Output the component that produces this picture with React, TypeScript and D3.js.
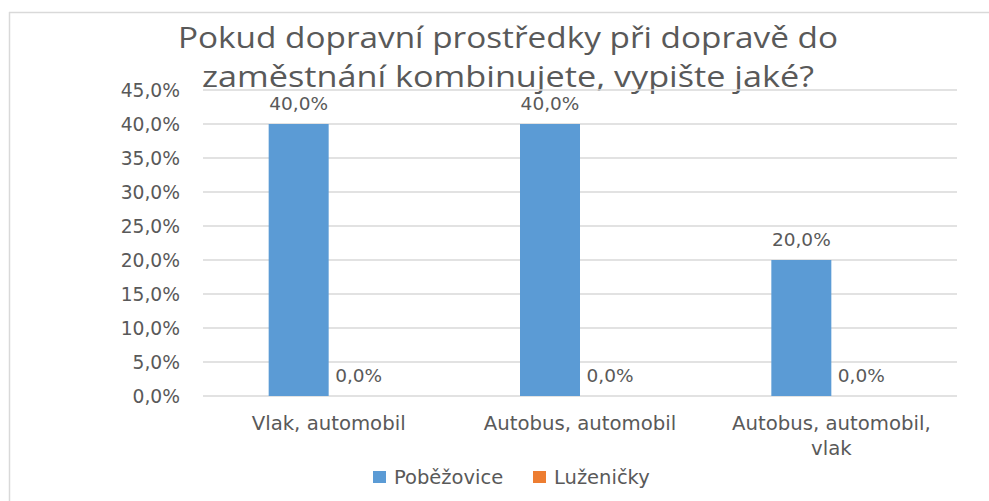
import React from "react";
import * as d3 from "d3";

const titleLines = ["Pokud dopravní prostředky při dopravě do", "zaměstnání kombinujete, vypište jaké?"];
const categories = ["Vlak, automobil", "Autobus, automobil", "Autobus, automobil, vlak"];
const categoryLines = [["Vlak, automobil"], ["Autobus, automobil"], ["Autobus, automobil,", "vlak"]];
const seriesNames = ["Poběžovice", "Luženičky"];
const pobezovice = [0.4, 0.4, 0.2];
const luzenicky = [0, 0, 0];
const yTicks = [0, 0.05, 0.1, 0.15, 0.2, 0.25, 0.3, 0.35, 0.4, 0.45];
const colors = ["#5B9BD5", "#ED7D31"];

const fmt = (v: number) => (v * 100).toFixed(1).replace(".", ",") + "%";

export default function App() {
  const W = 989, H = 501;
  const left = 203, right = 957, top = 90, bottom = 396;
  const x = d3.scaleBand<string>().domain(categories).range([left, right]).paddingInner(0).paddingOuter(0);
  const y = d3.scaleLinear().domain([0, 0.45]).range([bottom, top]);
  const barW = 60;
  const series = [pobezovice, luzenicky];
  const font = "'DejaVu Sans', sans-serif";
  const txt = "#595959";
  return (
    <svg width={W} height={H} style={{ position: "absolute", left: 0, top: 0, background: "#fff" }}>
      <rect x={0} y={0} width={W} height={H} fill="#fff" />
      <line x1={9.5} y1={12} x2={9.5} y2={H} stroke="#D9D9D9" strokeWidth={1.5} />
      <line x1={9} y1={12.5} x2={W} y2={12.5} stroke="#D9D9D9" strokeWidth={1.5} />
      {titleLines.map((t, i) => (
        <text key={t} x={508} y={48 + i * 39} textAnchor="middle" fontFamily="'Open Sans', sans-serif" fontSize={30}
          fill={txt} textLength={i === 0 ? 660 : 612} lengthAdjust="spacingAndGlyphs">{t}</text>
      ))}
      {yTicks.map((t) => (
        <g key={t}>
          <line x1={left} x2={right} y1={y(t)} y2={y(t)} stroke="#D9D9D9" strokeWidth={1.3} />
          <text x={180} y={y(t)} dy="0.36em" textAnchor="end" fontFamily={font} fontSize={18.7} fill={txt}>{fmt(t)}</text>
        </g>
      ))}
      {categories.map((c, ci) => {
        const cx = (x(c) as number) + x.bandwidth() / 2;
        return (
          <g key={c}>
            {series.map((s, si) => {
              const bx = cx - barW + si * barW;
              const v = s[ci];
              return (
                <g key={si}>
                  {v > 0 && <rect x={bx} y={y(v)} width={barW} height={y(0) - y(v)} fill={colors[si]} />}
                  <text x={bx + barW / 2} y={y(v) - 14} textAnchor="middle" fontFamily={font} fontSize={18.5} fill={txt}>{fmt(v)}</text>
                </g>
              );
            })}
            {categoryLines[ci].map((l, li) => (
              <text key={l} x={cx} y={430 + li * 25} textAnchor="middle" fontFamily={font} fontSize={19.7} fill={txt}>{l}</text>
            ))}
          </g>
        );
      })}
      {seriesNames.map((n, i) => {
        const lx = [373, 533][i];
        return (
          <g key={n}>
            <rect x={lx} y={471} width={13} height={12} fill={colors[i]} />
            <text x={lx + 21} y={484} fontFamily={font} fontSize={19.5} fill={txt}>{n}</text>
          </g>
        );
      })}
    </svg>
  );
}
